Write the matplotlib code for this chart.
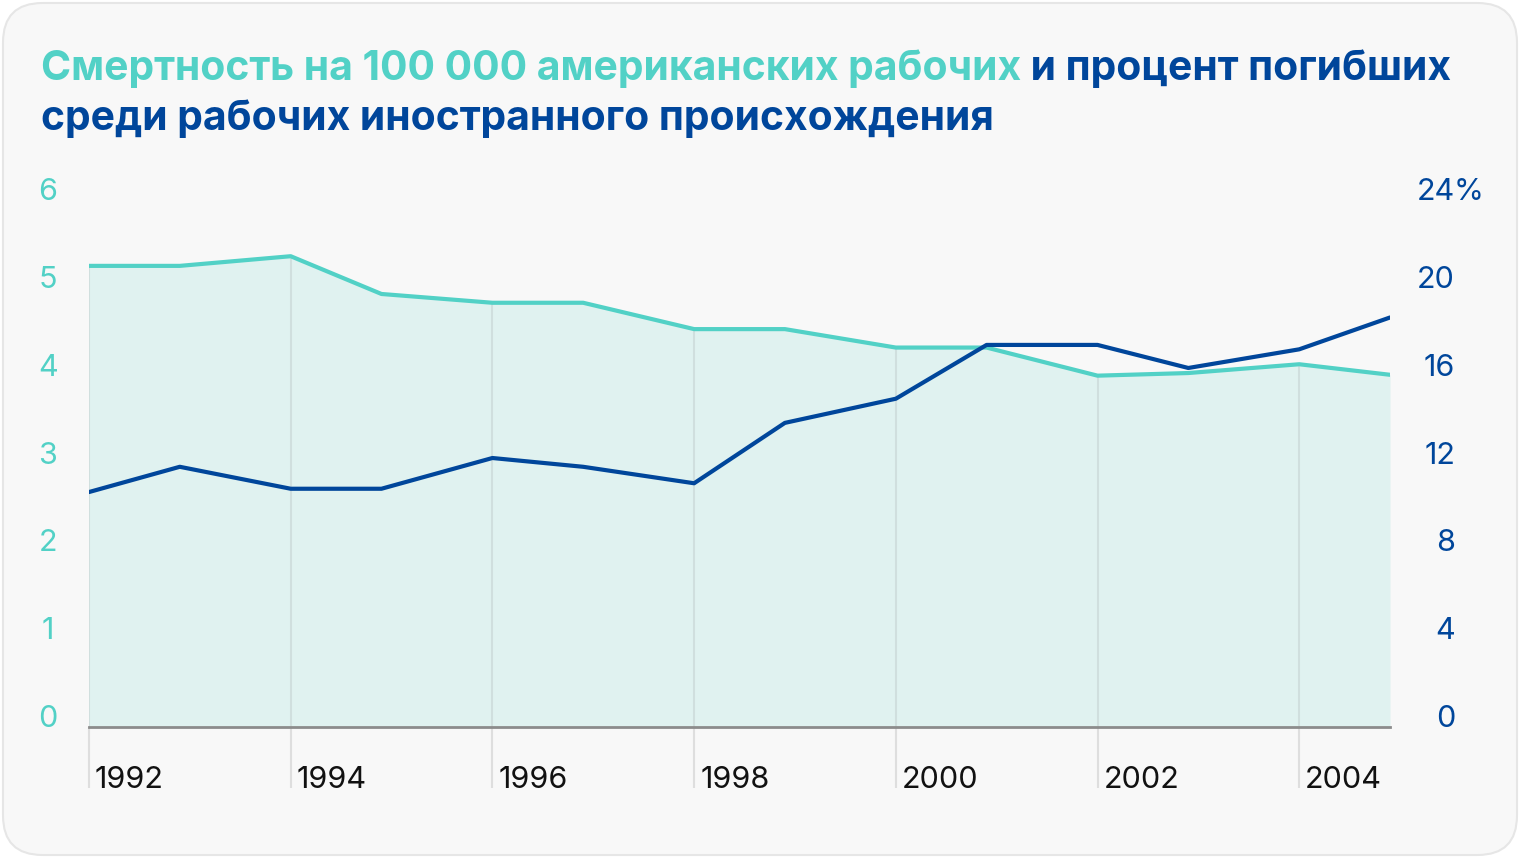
import matplotlib.pyplot as plt
import matplotlib.transforms as mtransforms
from matplotlib.patches import FancyBboxPatch

# data: fatality rate per 100k US workers (left) and share of foreign-born (right, %)
years = [1992, 1992.9, 1994, 1994.9, 1996, 1996.9, 1998, 1998.9,
         2000, 2000.9, 2002, 2002.9, 2004, 2004.9]
death_rate = [5.25, 5.25, 5.36, 4.93, 4.83, 4.83, 4.53, 4.53,
              4.32, 4.32, 4.0, 4.03, 4.13, 4.01]
foreign_share = [10.7, 11.85, 10.85, 10.85, 12.25, 11.85, 11.1, 13.85,
                 14.95, 17.4, 17.4, 16.35, 17.2, 18.65]

tick_years = [1992, 1994, 1996, 1998, 2000, 2002, 2004]
left_ticks = [0, 1, 2, 3, 4, 5, 6]
right_ticks = [0, 4, 8, 12, 16, 20, 24]

TEAL = '#52d1c6'
NAVY = '#00469b'
FILL = '#e0f2f0'
GRID = '#d0dfde'
W, H = 1520, 858

fig = plt.figure(figsize=(W / 100, H / 100), dpi=100)
fig.patch.set_facecolor('white')

# card background (behind everything)
card = FancyBboxPatch((3 / W, 3 / H), (W - 6) / W, (H - 6) / H,
                      boxstyle='round,pad=0,rounding_size=0.026',
                      transform=fig.transFigure, facecolor='#f8f8f8',
                      edgecolor='#e6e6e6', linewidth=1.5, mutation_aspect=W / H,
                      zorder=-10)
fig.patches.append(card)

ax = fig.add_axes([89 / W, 1 - 727 / H, (1390 - 89) / W, (727 - 200) / H])
ax.set_facecolor('none')
ax2 = ax.twinx()
ax2.set_facecolor('none')

ax.fill_between(years, death_rate, 0, color=FILL, lw=0, zorder=1)
# grid lines only inside the filled area
even_rates = [r for y, r in zip(years, death_rate) if y in tick_years]
ax.vlines(tick_years, 0, even_rates, color=GRID, lw=1.5, zorder=2)
ax.plot(years, death_rate, color=TEAL, lw=3, solid_capstyle='round', zorder=3)
ax.axhline(0, color='#8c8c8c', lw=2, zorder=4, clip_on=False)

ax2.plot(years, foreign_share, color=NAVY, lw=3, solid_capstyle='round', zorder=5)

ax.set_xlim(1992, 2004.9)
ax.set_ylim(0, 6)
ax2.set_ylim(0, 24)
for a in (ax, ax2):
    for s in a.spines.values():
        s.set_visible(False)
    a.set_yticks([])
ax.set_xticks(tick_years)
ax.set_xticklabels([])
ax.tick_params(axis='x', length=61 * 0.72, width=1.5, color='#dedede', direction='out', pad=0)

tick_font = dict(family='Inter', fontsize=22)

# left axis labels
tl = mtransforms.blended_transform_factory(fig.transFigure, ax.transData)
for v in left_ticks:
    fig.text(48 / W, v, str(v), transform=tl, ha='center', va='baseline', color=TEAL, **tick_font)

# right axis labels (numbers right-aligned, % hangs off)
tr = mtransforms.blended_transform_factory(fig.transFigure, ax2.transData)
for v in right_ticks:
    fig.text(1455 / W, v, str(v), transform=tr, ha='right', va='baseline', color=NAVY, **tick_font)
fig.text(1454 / W, right_ticks[-1], '%', transform=tr, ha='left', va='baseline', color=NAVY, **tick_font)

# x labels to the right of the tick lines
tx = mtransforms.blended_transform_factory(ax.transData, fig.transFigure)
tx = mtransforms.offset_copy(tx, fig=fig, x=6, y=0, units='dots')
for yr in tick_years:
    fig.text(yr, 1 - 788 / H, str(yr), transform=tx, ha='left', va='baseline',
             color='#111111', **tick_font)

# two-colour title
title_font = dict(family='Inter', fontsize=29.4, fontweight='bold')
t1 = fig.text(41 / W, 1 - 80 / H, 'Смертность на 100 000 американских рабочих',
              color=TEAL, va='baseline', ha='left', **title_font)
ax.annotate(' и процент погибших', xy=(1, 0), xycoords=t1, va='bottom', ha='left',
            color=NAVY, annotation_clip=False, **title_font)
fig.text(41 / W, 1 - 130 / H, 'среди рабочих иностранного происхождения',
         color=NAVY, va='baseline', ha='left', **title_font)

fig.savefig('out.png', dpi=100, facecolor='white')
